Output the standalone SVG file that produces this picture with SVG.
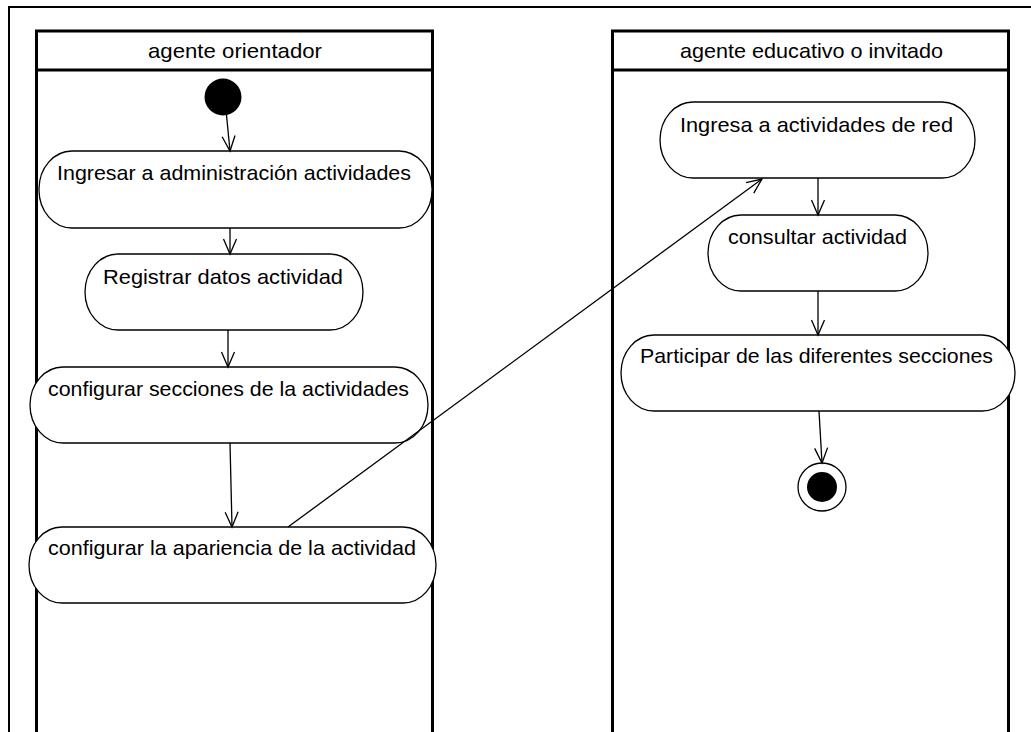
<svg xmlns="http://www.w3.org/2000/svg" width="1031" height="732" viewBox="0 0 1031 732">
<defs>
<style>
.frame{fill:none;stroke:#000;stroke-width:2}
.lane{fill:none;stroke:#000;stroke-width:3}
.act{fill:#fff;stroke:#000;stroke-width:1.3}
.t{font-family:"Liberation Sans",Arial,sans-serif;font-size:21px;fill:#000}
.c{fill:none;stroke:#000;stroke-width:1.3;marker-end:url(#arr)}
</style>
<marker id="arr" viewBox="-16 -9 18 18" refX="0" refY="0" markerWidth="18" markerHeight="18" markerUnits="userSpaceOnUse" orient="auto">
<path d="M-15,-6.5 L0,0 L-15,6.5" fill="none" stroke="#000" stroke-width="1.3"/>
</marker>
</defs>
<rect width="1031" height="732" fill="#fff"/>
<path class="frame" d="M9,732 V7 H1031"/>

<g id="lane-orientador">
<rect class="lane" x="36.5" y="31" width="396" height="710"/>
<line class="lane" x1="36.5" y1="70" x2="432.5" y2="70"/>
<text class="t" x="148" y="58" textLength="174" lengthAdjust="spacingAndGlyphs">agente orientador</text>
</g>
<g id="lane-educativo">
<rect class="lane" x="612.5" y="31" width="396" height="710"/>
<line class="lane" x1="612.5" y1="70" x2="1008.5" y2="70"/>
<text class="t" x="680" y="58" textLength="263" lengthAdjust="spacingAndGlyphs">agente educativo o invitado</text>
</g>

<g id="start"><circle cx="223" cy="97" r="18.5" fill="#000"/></g>

<g id="n1">
<rect class="act" x="39" y="151" width="393" height="77" rx="33" ry="38"/>
<text class="t" x="57" y="180" textLength="354" lengthAdjust="spacingAndGlyphs">Ingresar a administración actividades</text>
</g>
<g id="n2">
<rect class="act" x="85" y="254" width="278" height="76" rx="33" ry="38"/>
<text class="t" x="103" y="284" textLength="240" lengthAdjust="spacingAndGlyphs">Registrar datos actividad</text>
</g>
<g id="n3">
<rect class="act" x="30" y="367" width="398" height="76" rx="33" ry="38"/>
<text class="t" x="48" y="396" textLength="361" lengthAdjust="spacingAndGlyphs">configurar secciones de la actividades</text>
</g>
<g id="n4">
<rect class="act" x="29" y="527" width="407" height="76" rx="33" ry="38"/>
<text class="t" x="48" y="555" textLength="368" lengthAdjust="spacingAndGlyphs">configurar la apariencia de la actividad</text>
</g>
<g id="n5">
<rect class="act" x="660" y="102" width="315" height="76" rx="33" ry="38"/>
<text class="t" x="680" y="132" textLength="273" lengthAdjust="spacingAndGlyphs">Ingresa a actividades de red</text>
</g>
<g id="n6">
<rect class="act" x="708" y="215" width="220" height="76" rx="33" ry="38"/>
<text class="t" x="728" y="244" textLength="179" lengthAdjust="spacingAndGlyphs">consultar actividad</text>
</g>
<g id="n7">
<rect class="act" x="621" y="335" width="394" height="76" rx="33" ry="38"/>
<text class="t" x="640" y="363" textLength="353" lengthAdjust="spacingAndGlyphs">Participar de las diferentes secciones</text>
</g>

<g id="end">
<circle cx="822" cy="487" r="24" fill="#fff" stroke="#000" stroke-width="1.3"/>
<circle cx="822" cy="487" r="15" fill="#000"/>
</g>

<g id="connectors">
<line class="c" x1="226.5" y1="115" x2="230" y2="151"/>
<line class="c" x1="230" y1="228" x2="230" y2="254"/>
<line class="c" x1="228" y1="330" x2="228" y2="367"/>
<line class="c" x1="230" y1="443" x2="232" y2="527"/>
<line class="c" x1="288" y1="527" x2="762" y2="179"/>
<line class="c" x1="818" y1="178" x2="818" y2="215"/>
<line class="c" x1="818" y1="291" x2="818" y2="335"/>
<line class="c" x1="819" y1="411" x2="822" y2="463"/>
</g>
</svg>
